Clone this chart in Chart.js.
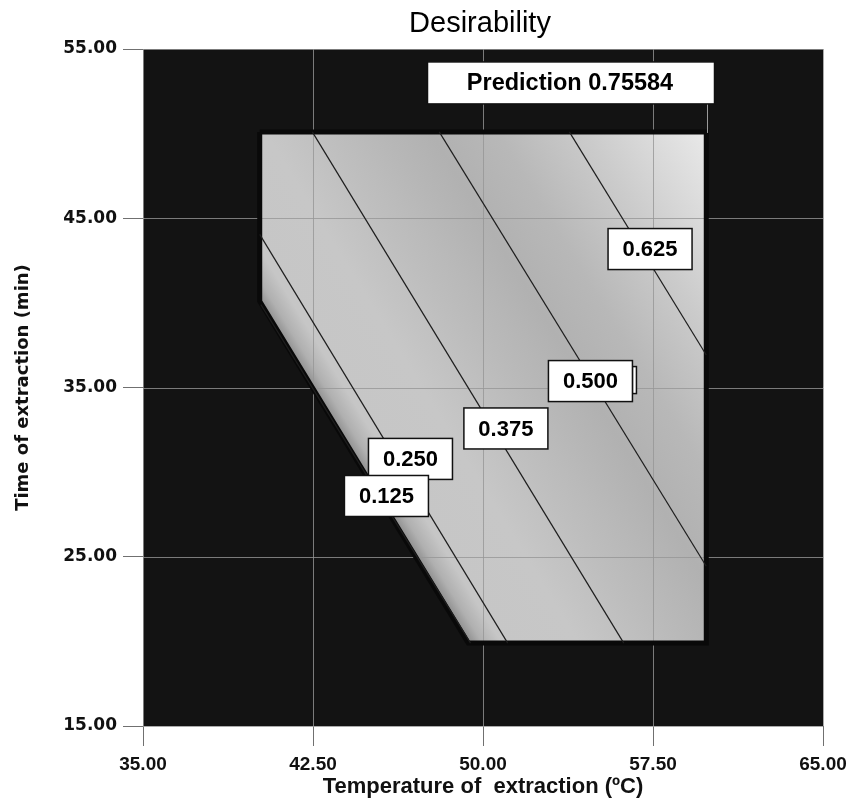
<!DOCTYPE html>
<html lang="en">

<head>
    <meta charset="UTF-8">
    <meta name="viewport" content="width=device-width, initial-scale=1.0">
    <script src="https://cdnjs.cloudflare.com/ajax/libs/Chart.js/4.4.1/chart.umd.min.js"></script>
    <title>Desirability</title>
    <style>
        html, body { margin: 0; padding: 0; background: #fff; }
        .wrap { width: 849px; height: 811px; }
    </style>
</head>

<body>
    <div class="wrap">
        <canvas id="chart" width="849" height="811"></canvas>
    </div>

    <script>
        // axis ticks
        const xTicks = [35, 42.5, 50, 57.5, 65];
        const yTicks = [15, 25, 35, 45, 55];

        // feasible region (temperature, time)
        const regionTemp = [40.15, 59.85, 59.85, 49.35, 40.15, 40.15];
        const regionTime = [50.1, 50.1, 19.9, 19.9, 40.1, 50.1];

        // contour lines, one pair of end points per level
        const contourLevels = ['0.125', '0.250', '0.375', '0.500', '0.625'];
        const contourTemp = [[40.2, 49.45], [40.15, 51.09], [42.47, 56.21], [48.07, 59.85], [53.81, 59.85]];
        const contourTime = [[39.9, 19.9], [44.05, 19.9], [50.1, 19.9], [50.1, 24.44], [50.1, 36.92]];

        // flagged optimum
        const prediction = 0.75584;
        const optimumTemp = [59.85];
        const optimumTime = [50.1];

        function shade(chart) {
            const { ctx, chartArea, scales } = chart;
            if (!chartArea || !scales.x) return '#c2c2c2';
            const xs = scales.x, ys = scales.y;
            const ex = xs.getPixelForValue(regionTemp[1]), ey = ys.getPixelForValue(regionTime[1]);
            const sx = xs.getPixelForValue(regionTemp[3]), sy = ys.getPixelForValue(regionTime[3]);
            // gradient runs across the contour lines
            const ux = 0.852, uy = -0.523;
            const len = (ex - sx) * ux + (ey - sy) * uy;
            const g = ctx.createLinearGradient(ex - ux * len, ey - uy * len, ex, ey);
            g.addColorStop(0, '#8c8c8c');
            g.addColorStop(0.025, '#b0b0b0');
            g.addColorStop(0.06, '#c6c6c6');
            g.addColorStop(0.2, '#c7c7c7');
            g.addColorStop(0.32, '#bebebe');
            g.addColorStop(0.5, '#b1b1b1');
            g.addColorStop(0.62, '#b8b8b8');
            g.addColorStop(0.78, '#cbcbcb');
            g.addColorStop(1, '#e9e9e9');
            return g;
        }

        function box(ctx, cx, cy, w, h) {
            ctx.fillStyle = '#fff';
            ctx.fillRect(cx - w / 2, cy - h / 2, w, h);
            ctx.strokeStyle = '#111';
            ctx.lineWidth = 1.5;
            ctx.strokeRect(cx - w / 2, cy - h / 2, w, h);
        }

        const plotDecor = {
            id: 'plotDecor',
            beforeDraw(chart) {
                const { ctx, chartArea: a } = chart;
                ctx.save();
                ctx.fillStyle = '#131313';
                ctx.fillRect(a.left, a.top, a.right - a.left, a.bottom - a.top);
                ctx.restore();
            },
            afterDatasetDraw(chart, args) {
                // grid goes over the shaded region, under its border
                if (args.index !== 0) return;
                const { ctx, chartArea: a, scales } = chart;
                ctx.save();
                ctx.strokeStyle = 'rgba(150,150,150,0.8)';
                ctx.lineWidth = 1;
                ctx.beginPath();
                xTicks.forEach(v => {
                    const px = Math.round(scales.x.getPixelForValue(v)) + 0.5;
                    ctx.moveTo(px, a.top);
                    ctx.lineTo(px, a.bottom);
                });
                yTicks.forEach(v => {
                    const py = Math.round(scales.y.getPixelForValue(v)) + 0.5;
                    ctx.moveTo(a.left, py);
                    ctx.lineTo(a.right, py);
                });
                ctx.stroke();
                ctx.restore();
            },
            afterDatasetsDraw(chart, args, opts) {
                const { ctx, scales } = chart;
                const xs = scales.x, ys = scales.y;
                ctx.save();

                // contour labels, top level first so 0.125 sits on top
                ctx.font = 'bold 22px "Liberation Sans", Arial, sans-serif';
                ctx.textAlign = 'center';
                ctx.textBaseline = 'middle';
                for (let i = contourLevels.length - 1; i >= 0; i--) {
                    const cx = xs.getPixelForValue(opts.spots[i][0]);
                    const cy = ys.getPixelForValue(opts.spots[i][1]);
                    if (contourLevels[i] === '0.500') {
                        box(ctx, cx + 44, cy - 1, 4, 27);
                    }
                    box(ctx, cx, cy, 84, 41);
                    ctx.fillStyle = '#000';
                    ctx.fillText(contourLevels[i], cx, cy + 1);
                }

                // prediction flag
                const fx = Math.round(xs.getPixelForValue(optimumTemp[0])) + 1.5;
                const fy = ys.getPixelForValue(optimumTime[0]);
                ctx.strokeStyle = '#9a9a9a';
                ctx.lineWidth = 1;
                ctx.beginPath();
                ctx.moveTo(fx, fy - 28);
                ctx.lineTo(fx, fy + 1);
                ctx.stroke();
                const bw = 287, bh = 42;
                box(ctx, fx + 7 - bw / 2, fy - 28 - bh / 2, bw, bh);
                ctx.fillStyle = '#000';
                ctx.font = 'bold 23.5px "Liberation Sans", Arial, sans-serif';
                ctx.fillText('Prediction ' + prediction, fx + 7 - bw / 2 - 1, fy - 28 - bh / 2 + 1);

                ctx.restore();
            },
            afterDraw(chart) {
                const { ctx } = chart;
                ctx.save();
                ctx.fillStyle = '#000';
                ctx.font = '29px "Liberation Sans", Arial, sans-serif';
                ctx.textAlign = 'center';
                ctx.textBaseline = 'middle';
                ctx.fillText('Desirability', 480, 24);
                ctx.restore();
            }
        };

        const datasets = [{
            label: 'region',
            data: regionTemp.map((v, i) => ({ x: v, y: regionTime[i] })),
            showLine: true,
            fill: 'shape',
            backgroundColor: ctx => shade(ctx.chart),
            borderColor: 'rgba(0,0,0,0)',
            borderWidth: 0,
            pointRadius: 0,
            order: 3
        }, {
            label: 'border',
            data: regionTemp.map((v, i) => ({ x: v, y: regionTime[i] })),
            showLine: true,
            fill: false,
            borderColor: '#090909',
            borderWidth: 5,
            pointRadius: 0,
            order: 2
        }].concat(contourLevels.map((lvl, i) => ({
            label: lvl,
            data: contourTemp[i].map((v, j) => ({ x: v, y: contourTime[i][j] })),
            showLine: true,
            fill: false,
            borderColor: '#1e1e1e',
            borderWidth: 1.2,
            pointRadius: 0,
            order: 1
        })));

        const chart = new Chart(document.getElementById('chart'), {
            type: 'scatter',
            data: { datasets: datasets },
            plugins: [plotDecor],
            options: {
                responsive: false,
                animation: false,
                events: [],
                layout: { padding: { top: 49, right: 26, left: 0, bottom: 0 } },
                plugins: {
                    legend: { display: false },
                    tooltip: { enabled: false },
                    title: { display: false },
                    plotDecor: {
                        spots: [[45.74, 28.59], [46.80, 30.78], [51.01, 32.58], [54.74, 35.38], [57.37, 43.18]]
                    }
                },
                scales: {
                    x: {
                        type: 'linear',
                        min: 35,
                        max: 65,
                        afterBuildTicks: s => { s.ticks = xTicks.map(v => ({ value: v })); },
                        afterFit: s => { s.height = 85; s.paddingLeft = 0; s.paddingRight = 0; },
                        grid: { drawOnChartArea: false, tickLength: 20, color: '#707070' },
                        border: { display: false },
                        ticks: {
                            padding: 7,
                            color: '#111',
                            font: { family: '"Liberation Sans", Arial, sans-serif', size: 19, weight: 'bold' },
                            callback: v => Number(v).toFixed(2)
                        },
                        title: {
                            display: true,
                            text: 'Temperature of  extraction (ºC)',
                            color: '#111',
                            padding: { top: 0, bottom: 11 },
                            font: { family: '"Liberation Sans", Arial, sans-serif', size: 22, weight: 'bold' }
                        }
                    },
                    y: {
                        type: 'linear',
                        min: 15,
                        max: 55,
                        afterBuildTicks: s => { s.ticks = yTicks.map(v => ({ value: v })); },
                        afterFit: s => { s.width = 143; s.paddingTop = 0; s.paddingBottom = 0; },
                        grid: { drawOnChartArea: false, tickLength: 20, color: '#707070' },
                        border: { display: false },
                        ticks: {
                            padding: 6,
                            color: '#111',
                            font: { family: '"DejaVu Sans", Verdana, sans-serif', size: 17, weight: 'bold' },
                            callback: v => Number(v).toFixed(2)
                        },
                        title: {
                            display: true,
                            text: 'Time of extraction (min)',
                            color: '#111',
                            padding: { top: 13, bottom: 0 },
                            font: { family: '"DejaVu Sans", Verdana, sans-serif', size: 18, weight: 'bold' }
                        }
                    }
                }
            }
        });
    </script>
</body>

</html>
